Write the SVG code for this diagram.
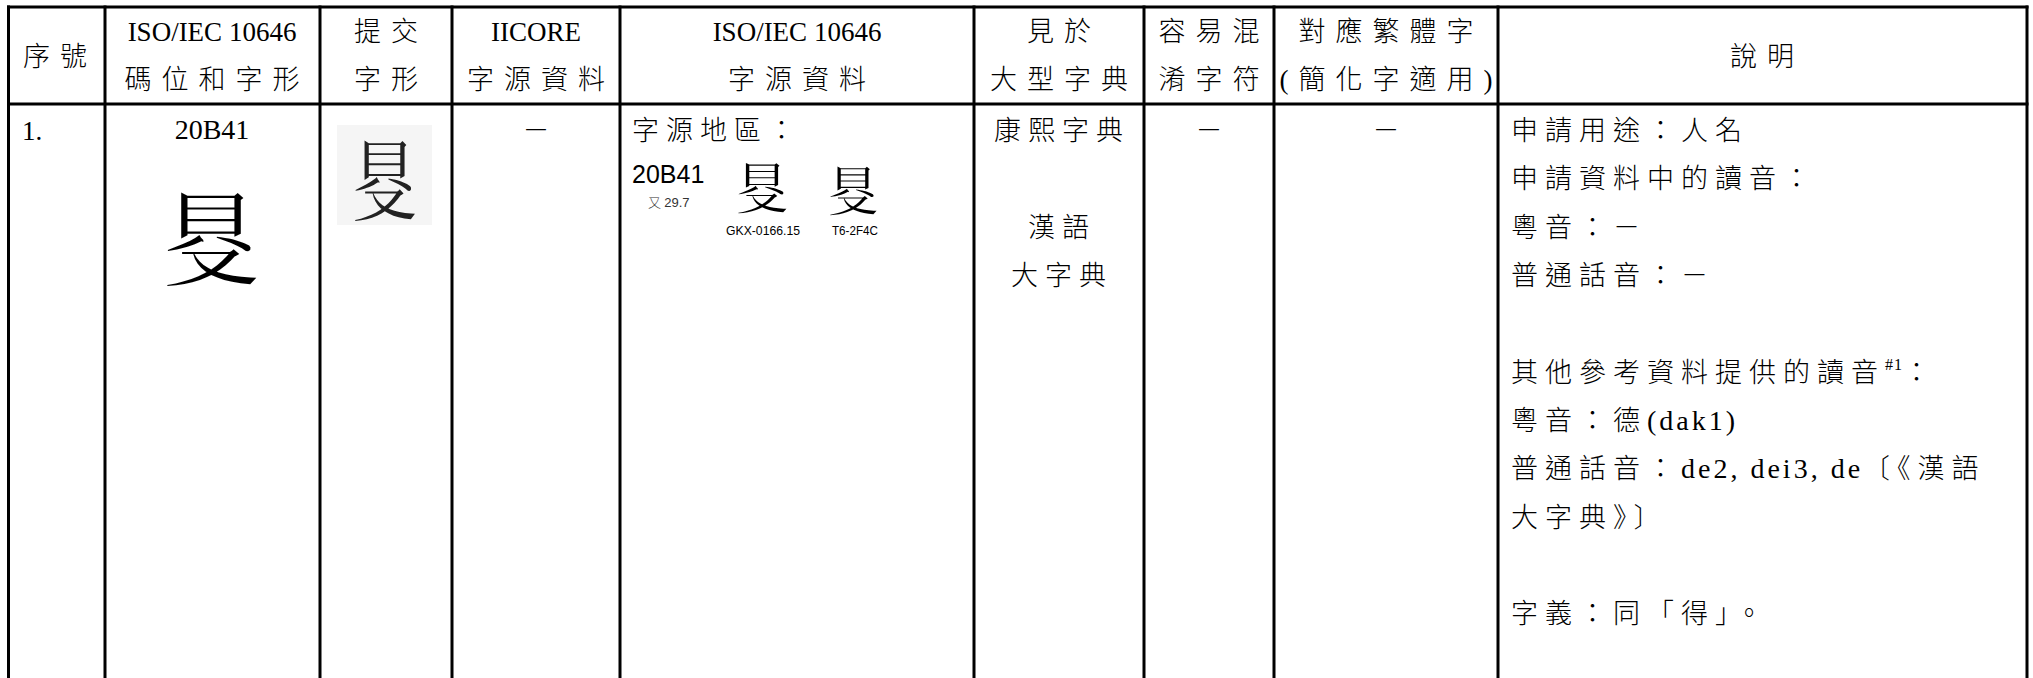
<svg xmlns="http://www.w3.org/2000/svg" width="2033" height="678" viewBox="0 0 2033 678">
<style>
text{font-family:"Liberation Serif","Noto Sans CJK TC",serif;font-size:27px;fill:#000;font-weight:300}
.h{letter-spacing:10px;text-anchor:middle}
.hl{text-anchor:middle}
.b{letter-spacing:7px}
.bm{letter-spacing:7px;text-anchor:middle}
.lat{letter-spacing:3px;font-size:28px}
.ar{font-family:"Liberation Sans",Arial,sans-serif}
.grid line{stroke:#000;stroke-width:3}
</style>
<rect width="2033" height="678" fill="#fff"/>
<g id="grid" class="grid">
<line x1="7" y1="7" x2="2028.5" y2="7"/>
<line x1="7" y1="104" x2="2028.5" y2="104"/>
<line x1="8.5" y1="5.5" x2="8.5" y2="678"/>
<line x1="105" y1="5.5" x2="105" y2="678"/>
<line x1="320" y1="5.5" x2="320" y2="678"/>
<line x1="452" y1="5.5" x2="452" y2="678"/>
<line x1="620" y1="5.5" x2="620" y2="678"/>
<line x1="974" y1="5.5" x2="974" y2="678"/>
<line x1="1144" y1="5.5" x2="1144" y2="678"/>
<line x1="1274" y1="5.5" x2="1274" y2="678"/>
<line x1="1498" y1="5.5" x2="1498" y2="678"/>
<line x1="2027" y1="5.5" x2="2027" y2="678"/>
</g>
<g id="header">
<text class="h" x="60" y="66">序號</text>
<text class="hl" x="212" y="41">ISO/IEC 10646</text>
<text class="h" x="217" y="89">碼位和字形</text>
<text class="h" x="391" y="41">提交</text>
<text class="h" x="391" y="89">字形</text>
<text class="hl" x="536" y="41">IICORE</text>
<text class="h" x="541" y="89">字源資料</text>
<text class="hl" x="797" y="41">ISO/IEC 10646</text>
<text class="h" x="802" y="89">字源資料</text>
<text class="h" x="1064" y="41">見於</text>
<text class="h" x="1064" y="89">大型字典</text>
<text class="h" x="1214" y="41">容易混</text>
<text class="h" x="1214" y="89">淆字符</text>
<text class="h" x="1391" y="41">對應繁體字</text>
<text class="h" x="1391" y="89">(簡化字適用)</text>
<text class="h" x="1767" y="66">說明</text>
</g>
<g id="row1-no"><text x="22" y="140">1.</text></g>
<g id="row1-code">
<text class="hl" x="212" y="139" style="font-size:28px">20B41</text>
<text class="hl" x="211" y="278" style="font-size:100px">𠭁</text>
</g>
<g id="row1-submitted">
<rect x="337" y="125" width="95" height="100" fill="#f5f5f5"/>
<text transform="translate(384 214) scale(0.78 1)" class="hl" style="font-size:86px;fill:#222">𠭁</text>
</g>
<g id="row1-iicore"><text class="hl" x="536" y="140">－</text></g>
<g id="row1-source">
<text class="b" x="632" y="140">字源地區：</text>
<text class="ar" x="632" y="183" style="font-size:25px">20B41</text>
<text x="648" y="207" style="font-size:13px;fill:#333">又 <tspan class="ar">29.7</tspan></text>
<text class="hl" x="762" y="209" style="font-size:54px">𠭁</text>
<text class="ar hl" x="763" y="235" style="font-size:13px" textLength="74" lengthAdjust="spacingAndGlyphs">GKX-0166.15</text>
<text class="hl" x="853" y="211" style="font-size:52px">𠭁</text>
<text class="ar hl" x="855" y="235" style="font-size:13px" textLength="46" lengthAdjust="spacingAndGlyphs">T6-2F4C</text>
</g>
<g id="row1-dict">
<text class="bm" x="1062" y="140">康熙字典</text>
<text class="bm" x="1062" y="237">漢語</text>
<text class="bm" x="1062" y="285">大字典</text>
</g>
<g id="row1-confusable"><text class="hl" x="1209" y="140">－</text></g>
<g id="row1-trad"><text class="hl" x="1386" y="140">－</text></g>
<g id="row1-notes">
<text class="b" x="1511" y="140">申請用途：人名</text>
<text class="b" x="1511" y="188">申請資料中的讀音：</text>
<text class="b" x="1511" y="237">粵音：－</text>
<text class="b" x="1511" y="285">普通話音：－</text>
<text class="b" x="1511" y="382">其他參考資料提供的讀音<tspan dy="-12" style="font-size:16px;letter-spacing:1px">#1</tspan><tspan dy="12">：</tspan></text>
<text class="b" x="1511" y="430">粵音：德<tspan class="lat">(dak1)</tspan></text>
<text class="b" x="1511" y="478">普通話音：<tspan class="lat">de2, dei3, de</tspan>〔《漢語</text>
<text class="b" x="1511" y="527">大字典》〕</text>
<text class="b" x="1511" y="623">字義：同「得」。</text>
</g>
</svg>
